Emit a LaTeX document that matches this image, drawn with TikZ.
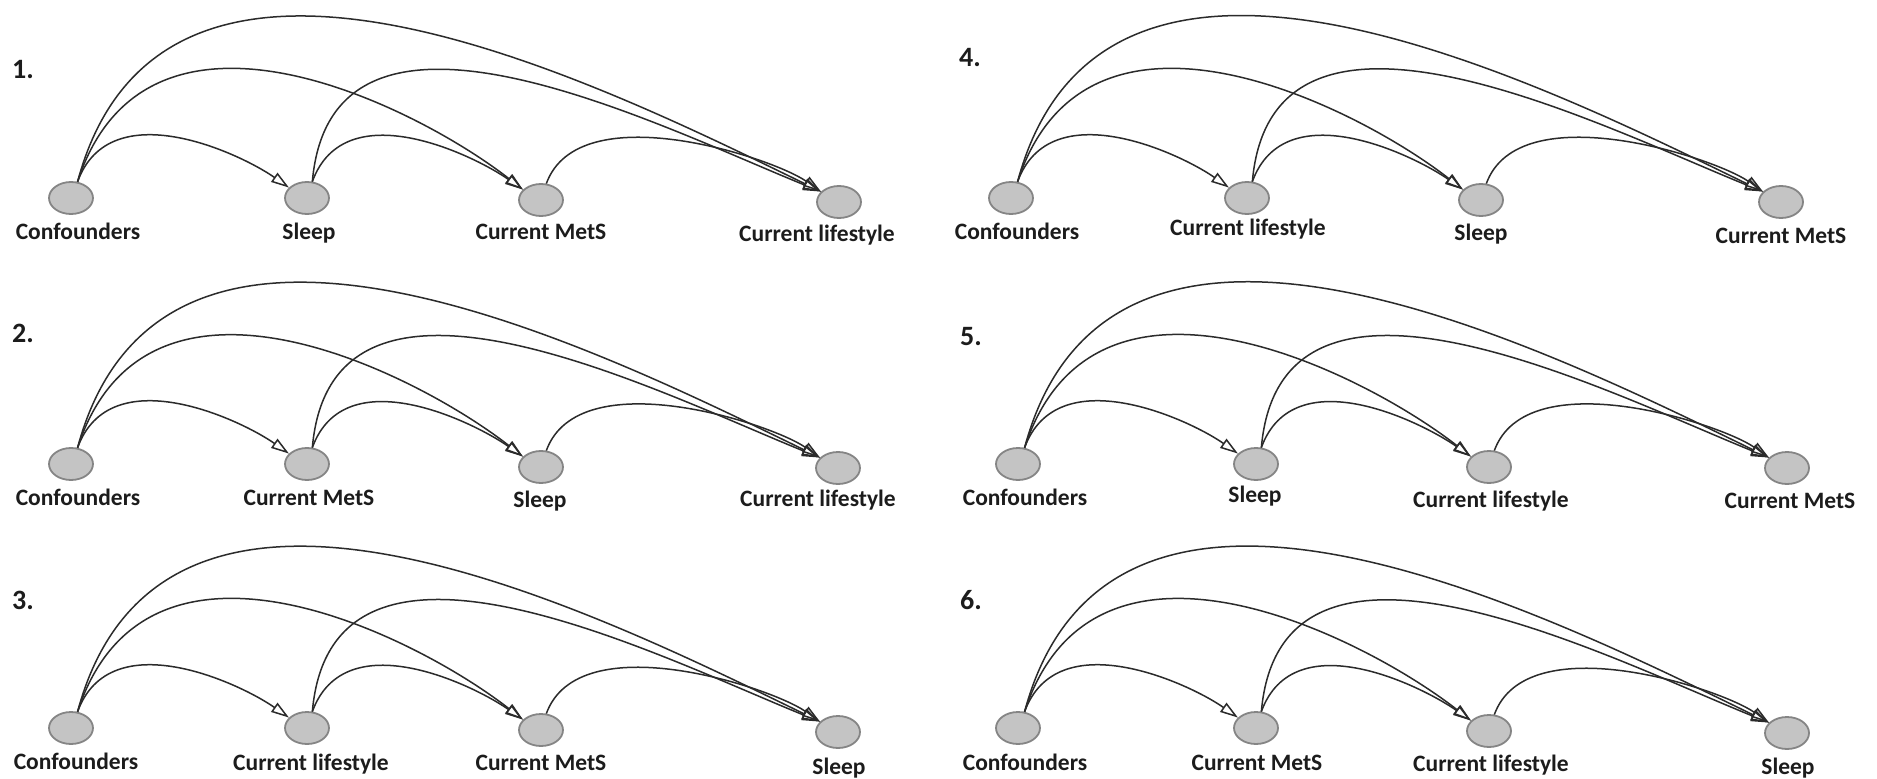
\documentclass[tikz,border=0pt]{standalone}
\usepackage{fontspec}
\setmainfont{Carlito}
\usetikzlibrary{shapes.geometric,arrows.meta}

\definecolor{edgecol}{HTML}{2B2B2B}
\definecolor{nodefill}{HTML}{C4C4C4}
\definecolor{nodeline}{HTML}{858585}
\definecolor{txtcol}{HTML}{1C1C1C}

% the six arcs of one ordering: first node to all, second to the last two, third to the last
\newcommand{\dagedges}[1]{%
  \draw[arc] (#1a.68) to[arcS] (#1b.150);
  \draw[arc] (#1a.68) to[arcM] (#1c.150);
  \draw[arc] (#1a.68) to[arcL] (#1d.150);
  \draw[arc] (#1b.72) to[arcS] (#1c.150);
  \draw[arc] (#1b.72) to[arcN] (#1d.150);
  \draw[arc] (#1c.72) to[arcS] (#1d.150);
}

\begin{document}
\begin{tikzpicture}[x=1pt,y=-1pt,
  dagnode/.style={ellipse,draw=nodeline,fill=nodefill,line width=1.8pt,
    minimum width=44pt,minimum height=32pt,inner sep=0pt},
  lbl/.style={anchor=base,inner sep=0pt,text=txtcol,
    font=\fontsize{23.5}{28}\selectfont\bfseries},
  num/.style={inner sep=0pt,text=txtcol,
    font=\fontsize{28}{32}\selectfont\bfseries},
  arc/.style={draw=edgecol,line width=1.5pt,
    -{Triangle[open,length=18pt,width=11pt,line width=1.5pt]}},
  % neighbouring nodes
  arcS/.style={out=70,in=145,out distance=95pt,in distance=60pt},
  % first node to third node
  arcM/.style={out=72,in=142,out looseness=1.28,in looseness=0.77},
  % second node to fourth node
  arcN/.style={out=85,in=158,out looseness=1.12,in looseness=0.89},
  % first node to fourth node
  arcL/.style={out=75,in=154,out looseness=1.12,in looseness=0.89}]

\useasboundingbox[fill=white] (0,0) rectangle (1877,779);

% ---------- 1. ----------
\node[num] (t1) at (23,70) {1.};
\node[dagnode] (n1a) at (71,198) {};
\node[dagnode] (n1b) at (307,198) {};
\node[dagnode] (n1c) at (541,200) {};
\node[dagnode] (n1d) at (839,202) {};
\node[lbl] (l1a) at (78,239) {Confounders};
\node[lbl] (l1b) at (309,239) {Sleep};
\node[lbl] (l1c) at (541,239) {Current MetS};
\node[lbl] (l1d) at (817,241) {Current lifestyle};
\dagedges{n1}

% ---------- 2. ----------
\node[num] (t2) at (23,333) {2.};
\node[dagnode] (n2a) at (71,464) {};
\node[dagnode] (n2b) at (307,464) {};
\node[dagnode] (n2c) at (541,467) {};
\node[dagnode] (n2d) at (838,468) {};
\node[lbl] (l2a) at (78,505) {Confounders};
\node[lbl] (l2b) at (309,505) {Current MetS};
\node[lbl] (l2c) at (540,507) {Sleep};
\node[lbl] (l2d) at (818,506) {Current lifestyle};
\dagedges{n2}

% ---------- 3. ----------
\node[num] (t3) at (23,600) {3.};
\node[dagnode] (n3a) at (71,728) {};
\node[dagnode] (n3b) at (307,728) {};
\node[dagnode] (n3c) at (541,730) {};
\node[dagnode] (n3d) at (838,732) {};
\node[lbl] (l3a) at (76,769) {Confounders};
\node[lbl] (l3b) at (311,770) {Current lifestyle};
\node[lbl] (l3c) at (541,770) {Current MetS};
\node[lbl] (l3d) at (839,774) {Sleep};
\dagedges{n3}

% ---------- 4. ----------
\node[num] (t4) at (970,58) {4.};
\node[dagnode] (n4a) at (1011,198) {};
\node[dagnode] (n4b) at (1247,198) {};
\node[dagnode] (n4c) at (1481,200) {};
\node[dagnode] (n4d) at (1781,202) {};
\node[lbl] (l4a) at (1017,239) {Confounders};
\node[lbl] (l4b) at (1248,235) {Current lifestyle};
\node[lbl] (l4c) at (1481,240) {Sleep};
\node[lbl] (l4d) at (1781,243) {Current MetS};
\dagedges{n4}

% ---------- 5. ----------
\node[num] (t5) at (971,337) {5.};
\node[dagnode] (n5a) at (1018,464) {};
\node[dagnode] (n5b) at (1256,464) {};
\node[dagnode] (n5c) at (1489,467) {};
\node[dagnode] (n5d) at (1787,468) {};
\node[lbl] (l5a) at (1025,505) {Confounders};
\node[lbl] (l5b) at (1255,502) {Sleep};
\node[lbl] (l5c) at (1491,507) {Current lifestyle};
\node[lbl] (l5d) at (1790,508) {Current MetS};
\dagedges{n5}

% ---------- 6. ----------
\node[num] (t6) at (971,600) {6.};
\node[dagnode] (n6a) at (1018,728) {};
\node[dagnode] (n6b) at (1256,728) {};
\node[dagnode] (n6c) at (1489,731) {};
\node[dagnode] (n6d) at (1787,733) {};
\node[lbl] (l6a) at (1025,770) {Confounders};
\node[lbl] (l6b) at (1257,770) {Current MetS};
\node[lbl] (l6c) at (1491,771) {Current lifestyle};
\node[lbl] (l6d) at (1788,774) {Sleep};
\dagedges{n6}

\end{tikzpicture}
\end{document}
